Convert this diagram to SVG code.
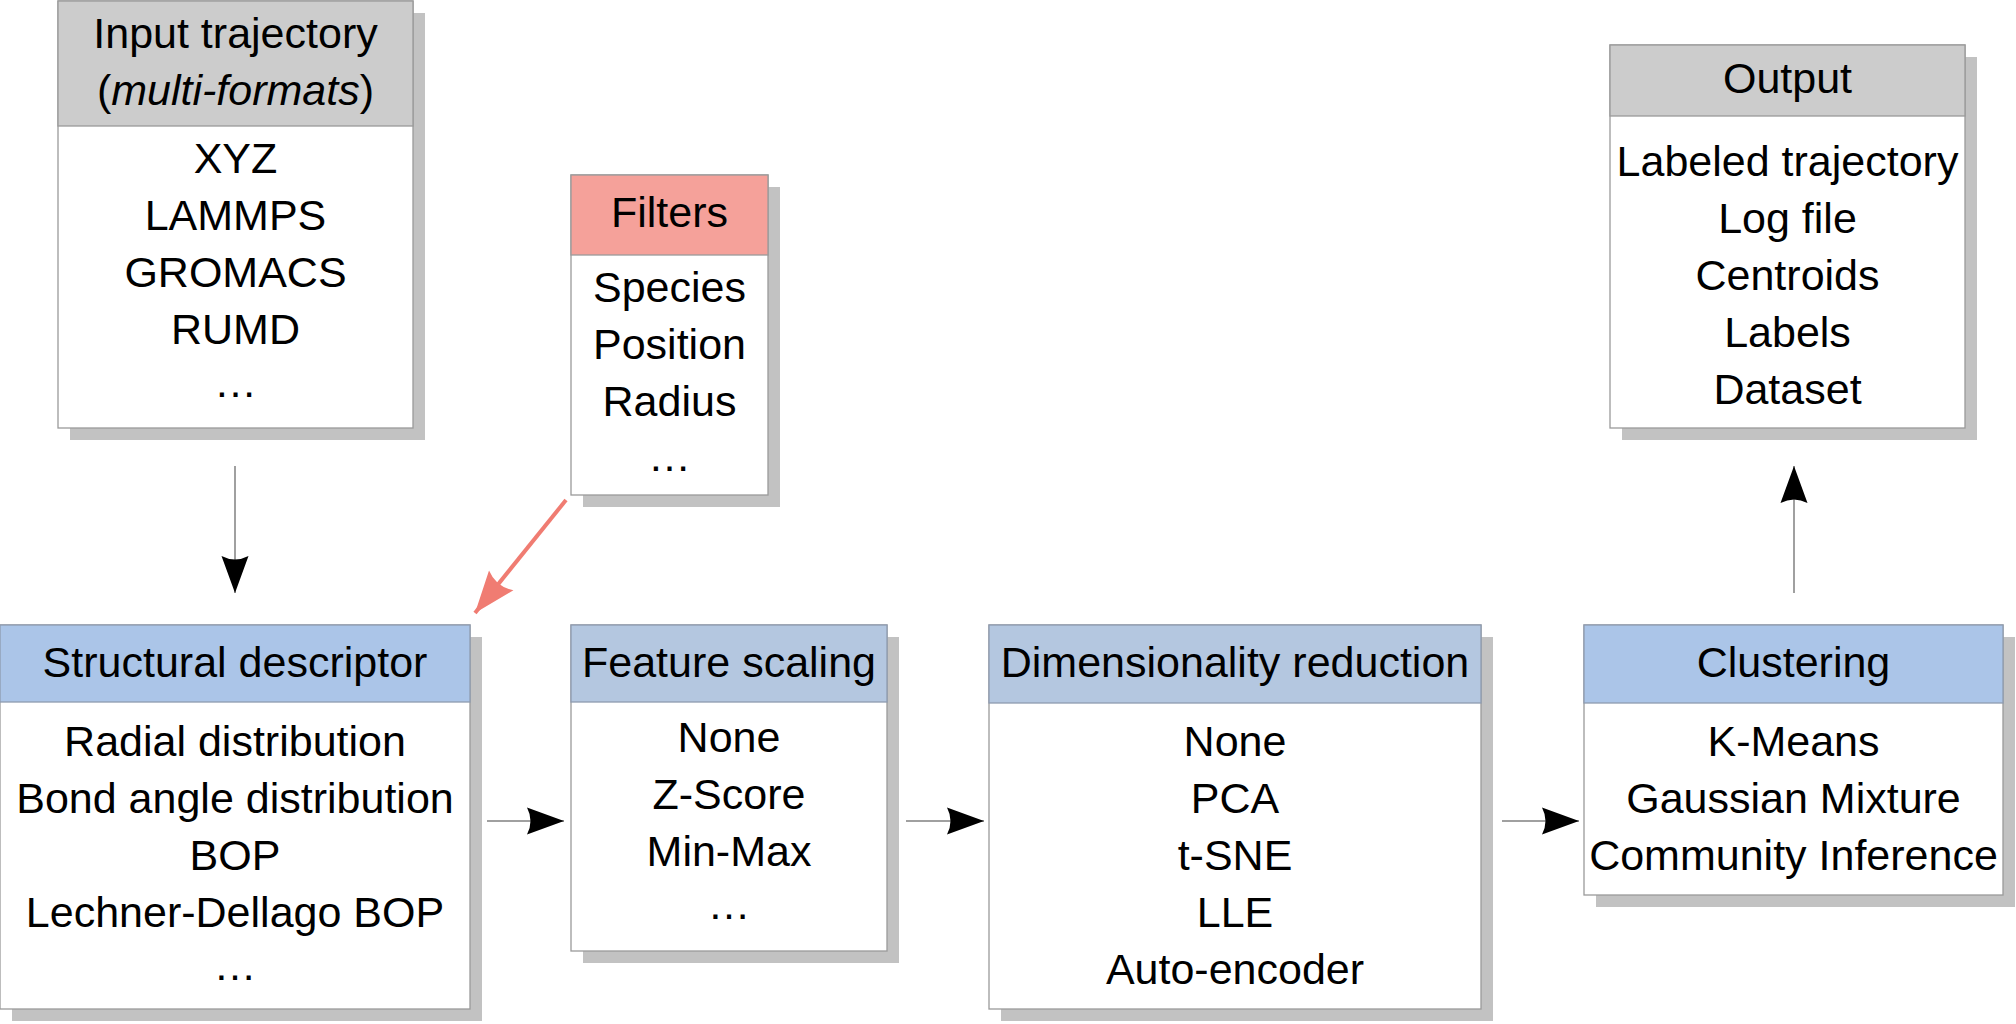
<svg xmlns="http://www.w3.org/2000/svg" width="2016" height="1024" viewBox="0 0 2016 1024">
<style>
text{font-family:"Liberation Sans",Arial,sans-serif;font-size:43px;text-anchor:middle;fill:#000}
.sh{fill:#c2c2c2}
.body{fill:#fff;stroke:#9a9a9a;stroke-width:1.3}
.hg{fill:#cccccc;stroke:#9a9a9a;stroke-width:1.3}
.hr{fill:#f5a19a;stroke:#9a9a9a;stroke-width:1.3}
.hb{fill:#abc5e8;stroke:#8e9bb0;stroke-width:1.3}
.hs{fill:#b4c7e0;stroke:#8e9bb0;stroke-width:1.3}
.ln{stroke:#808080;stroke-width:1.5;fill:none}
.lr{stroke:#f07c72;stroke-width:4;fill:none}
</style>
<defs>
<marker id="ah" markerUnits="userSpaceOnUse" markerWidth="42" markerHeight="32" viewBox="-39 -16 41 32" refX="0" refY="0" orient="auto">
<path d="M0,0 L-37,-13.5 Q-30,0 -37,13.5 Z" fill="#000"/>
</marker>
<marker id="ahr" markerUnits="userSpaceOnUse" markerWidth="46" markerHeight="36" viewBox="-42 -17 44 34" refX="0" refY="0" orient="auto">
<path d="M0,0 L-40,-15 Q-32,0 -40,15 Z" fill="#f07c72"/>
</marker>
</defs>

<g id="connectors">
<line class="ln" x1="235" y1="466" x2="235" y2="593" marker-end="url(#ah)"/>
<line class="lr" x1="566" y1="500" x2="475" y2="613" marker-end="url(#ahr)"/>
<line class="ln" x1="487" y1="821" x2="564" y2="821" marker-end="url(#ah)"/>
<line class="ln" x1="906" y1="821" x2="984" y2="821" marker-end="url(#ah)"/>
<line class="ln" x1="1502" y1="821" x2="1579" y2="821" marker-end="url(#ah)"/>
<line class="ln" x1="1794" y1="593" x2="1794" y2="466" marker-end="url(#ah)"/>
</g>

<g id="input">
<rect class="sh" x="70" y="13" width="355" height="427"/>
<rect class="body" x="58" y="1" width="355" height="427"/>
<rect class="hg" x="58" y="1" width="355" height="125"/>
<text x="235.5" y="48">Input trajectory</text>
<text x="235.5" y="105">(<tspan font-style="italic">multi-formats</tspan>)</text>
<text x="235.5" y="173">XYZ</text>
<text x="235.5" y="230">LAMMPS</text>
<text x="235.5" y="287">GROMACS</text>
<text x="235.5" y="344">RUMD</text>
<text x="235.5" y="397">…</text>
</g>

<g id="filters">
<rect class="sh" x="583" y="187" width="197" height="320"/>
<rect class="body" x="571" y="175" width="197" height="320"/>
<rect class="hr" x="571" y="175" width="197" height="80"/>
<text x="669.5" y="227">Filters</text>
<text x="669.5" y="302">Species</text>
<text x="669.5" y="359">Position</text>
<text x="669.5" y="416">Radius</text>
<text x="669.5" y="471">…</text>
</g>

<g id="structural">
<rect class="sh" x="12" y="637" width="470" height="384"/>
<rect class="body" x="0" y="625" width="470" height="384"/>
<rect class="hb" x="0" y="625" width="470" height="77"/>
<text x="235" y="677">Structural descriptor</text>
<text x="235" y="756">Radial distribution</text>
<text x="235" y="813">Bond angle distribution</text>
<text x="235" y="870">BOP</text>
<text x="235" y="927">Lechner-Dellago BOP</text>
<text x="235" y="980">…</text>
</g>

<g id="scaling">
<rect class="sh" x="583" y="637" width="316" height="326"/>
<rect class="body" x="571" y="625" width="316" height="326"/>
<rect class="hs" x="571" y="625" width="316" height="77"/>
<text x="729" y="677">Feature scaling</text>
<text x="729" y="752">None</text>
<text x="729" y="809">Z-Score</text>
<text x="729" y="866">Min-Max</text>
<text x="729" y="919">…</text>
</g>

<g id="reduction">
<rect class="sh" x="1001" y="637" width="492" height="384"/>
<rect class="body" x="989" y="625" width="492" height="384"/>
<rect class="hs" x="989" y="625" width="492" height="78"/>
<text x="1235" y="677">Dimensionality reduction</text>
<text x="1235" y="756">None</text>
<text x="1235" y="813">PCA</text>
<text x="1235" y="870">t-SNE</text>
<text x="1235" y="927">LLE</text>
<text x="1235" y="984">Auto-encoder</text>
</g>

<g id="clustering">
<rect class="sh" x="1596" y="637" width="419" height="270"/>
<rect class="body" x="1584" y="625" width="419" height="270"/>
<rect class="hb" x="1584" y="625" width="419" height="78"/>
<text x="1793.5" y="677">Clustering</text>
<text x="1793.5" y="756">K-Means</text>
<text x="1793.5" y="813">Gaussian Mixture</text>
<text x="1793.5" y="870">Community Inference</text>
</g>

<g id="output">
<rect class="sh" x="1622" y="57" width="355" height="383"/>
<rect class="body" x="1610" y="45" width="355" height="383"/>
<rect class="hg" x="1610" y="45" width="355" height="71"/>
<text x="1787.5" y="93">Output</text>
<text x="1787.5" y="176">Labeled trajectory</text>
<text x="1787.5" y="233">Log file</text>
<text x="1787.5" y="290">Centroids</text>
<text x="1787.5" y="347">Labels</text>
<text x="1787.5" y="404">Dataset</text>
</g>
</svg>
